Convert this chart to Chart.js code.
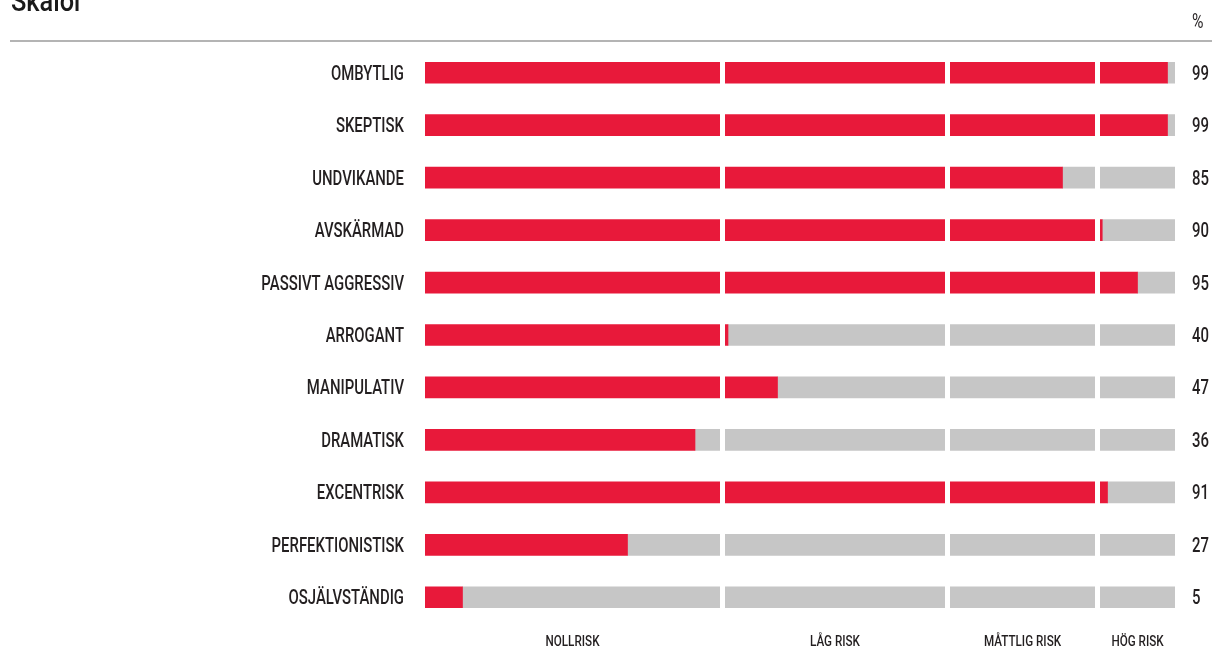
<!DOCTYPE html>
<html>
<head>
<meta charset="utf-8">
<script src="https://cdn.jsdelivr.net/npm/chart.js@4"></script>
<style>
  html, body { margin: 0; padding: 0; background: #fff; }
  #wrap { position: relative; width: 1212px; height: 649px; }
</style>
</head>
<body>
<div id="wrap"><canvas id="grafico"></canvas></div>
<script>
// data
const skalor = ['OMBYTLIG', 'SKEPTISK', 'UNDVIKANDE', 'AVSKÄRMAD', 'PASSIVT AGGRESSIV', 'ARROGANT',
  'MANIPULATIV', 'DRAMATISK', 'EXCENTRISK', 'PERFEKTIONISTISK', 'OSJÄLVSTÄNDIG'];
const varden = [99, 99, 85, 90.3, 95, 40.4, 47, 36, 91, 27, 5];
const zoner = ['NOLLRISK', 'LÅG RISK', 'MÅTTLIG RISK', 'HÖG RISK'];
const zonGranser = [0, 40, 70, 90, 100];

const rod = '#e8193a';
const gra = '#c6c6c6';
const text = '#231f20';
const GAP = 5;

// the original uses a very condensed face; squeeze Roboto horizontally
function smalText(ctx, str, x, y, align, font, sx) {
  ctx.font = font;
  const w = ctx.measureText(str).width * sx;
  let left = x;
  if (align === 'right') left = x - w;
  if (align === 'center') left = x - w / 2;
  ctx.save();
  ctx.translate(left, y);
  ctx.scale(sx, 1);
  ctx.textAlign = 'left';
  ctx.fillText(str, 0, 0);
  ctx.restore();
}

function faktor(ctx, font, str, bredd) {
  ctx.font = font;
  return bredd / ctx.measureText(str).width;
}

const extras = {
  id: 'extras',
  afterDatasetsDraw(chart) {
    const ctx = chart.ctx;
    const x = chart.scales.x;
    const y = chart.scales.y;
    const a = chart.chartArea;
    ctx.save();

    // white gaps between the risk zones
    ctx.fillStyle = '#fff';
    for (let i = 1; i < zonGranser.length - 1; i++) {
      const px = x.getPixelForValue(zonGranser[i]);
      ctx.fillRect(px - GAP, a.top, GAP, a.bottom - a.top);
    }

    const stor = '500 20px Roboto, sans-serif';
    const liten = '500 14px Roboto, sans-serif';
    const rubrik = '500 29px Roboto, sans-serif';
    const sxStor = faktor(ctx, stor, 'OMBYTLIG', 73);
    const sxLiten = faktor(ctx, liten, 'NOLLRISK', 54);
    const sxRubrik = faktor(ctx, rubrik, 'Skalor', 72);
    ctx.fillStyle = text;
    ctx.textBaseline = 'alphabetic';

    // category labels and values
    for (let i = 0; i < skalor.length; i++) {
      const py = y.getPixelForValue(i) + 7;
      smalText(ctx, skalor[i], a.left - 21, py, 'right', stor, sxStor);
      smalText(ctx, String(Math.round(varden[i])), a.right + 17, py, 'left', stor, sxStor);
    }

    // zone labels under the bars
    for (let i = 0; i < zoner.length; i++) {
      const lo = x.getPixelForValue(zonGranser[i]);
      let hi = x.getPixelForValue(zonGranser[i + 1]);
      if (i < zoner.length - 1) hi -= GAP;
      smalText(ctx, zoner[i], (lo + hi) / 2, 646, 'center', liten, sxLiten);
    }

    // header
    smalText(ctx, '%', a.right + 17, 28, 'left', '21px Roboto, sans-serif', sxStor);
    ctx.fillStyle = '#b4b4b4';
    ctx.fillRect(10, 40, 1202, 2);
    ctx.fillStyle = '#1a1a1a';
    smalText(ctx, 'Skalor', 11, 11, 'left', rubrik, sxRubrik);
    ctx.restore();
  }
};

new Chart(document.getElementById('grafico'), {
  type: 'bar',
  data: {
    labels: skalor,
    datasets: [{
      label: 'Värde',
      data: varden,
      backgroundColor: rod,
      barThickness: 21,
      stack: 's'
    }, {
      label: 'Rest',
      data: varden.map(v => 100 - v),
      backgroundColor: gra,
      barThickness: 21,
      stack: 's'
    }]
  },
  options: {
    indexAxis: 'y',
    responsive: true,
    maintainAspectRatio: false,
    animation: false,
    layout: { padding: { top: 46.5, right: 37, left: 0, bottom: 0 } },
    plugins: { legend: { display: false }, tooltip: { enabled: false } },
    scales: {
      x: {
        stacked: true,
        min: 0,
        max: 100,
        grid: { display: false, drawTicks: false },
        border: { display: false },
        ticks: { display: false },
        afterFit(s) { s.height = 25.5; }
      },
      y: {
        stacked: true,
        grid: { display: false, drawTicks: false },
        border: { display: false },
        ticks: { display: false },
        afterFit(s) { s.width = 425; }
      }
    }
  },
  plugins: [extras]
});
</script>
</body>
</html>
